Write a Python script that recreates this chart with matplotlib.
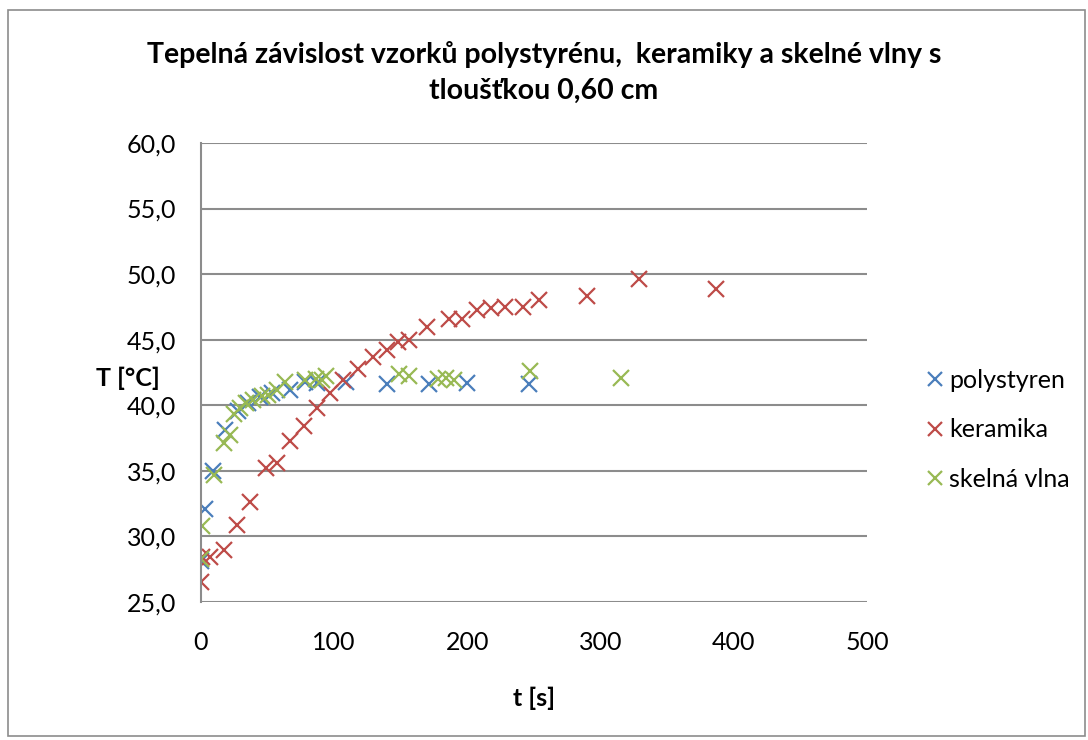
import matplotlib
matplotlib.use("Agg")
import matplotlib.pyplot as plt
from matplotlib.patches import Rectangle
from matplotlib.ticker import FuncFormatter

plt.rcParams["font.family"] = ["Lato", "DejaVu Sans"]

# values
t_poly = [0, 3, 9, 18, 28, 35, 44, 53, 67, 78, 87, 109, 140, 171, 200, 246]
T_poly = [28.1, 32.1, 35.0, 38.1, 39.6, 40.2, 40.6, 40.9, 41.2, 41.8, 41.7, 41.8, 41.6, 41.6, 41.7, 41.6]

t_ker = [0, 1, 7, 17, 27, 37, 49, 57, 67, 77, 87, 97, 107, 118, 129, 140, 148, 156,
         170, 186, 196, 207, 218, 228, 242, 254, 290, 329, 387]
T_ker = [26.5, 28.4, 28.4, 29.0, 30.9, 32.6, 35.2, 35.6, 37.3, 38.4, 39.8, 40.9, 41.9, 42.8,
         43.7, 44.2, 44.8, 45.0, 46.0, 46.6, 46.6, 47.3, 47.4, 47.5, 47.5, 48.0, 48.3, 49.6, 48.9]

t_glass = [0, 1, 10, 17, 22, 25, 29, 34, 39, 46, 50, 57, 63, 78, 86, 91, 94,
           149, 156, 178, 184, 190, 247, 315]
T_glass = [28.3, 30.8, 34.7, 37.1, 37.7, 39.3, 39.8, 40.2, 40.4, 40.7, 40.8, 41.2, 41.8,
           41.9, 42.0, 41.9, 42.2, 42.4, 42.2, 42.0, 42.1, 41.9, 42.6, 42.1]

series = [
    ("polystyren", t_poly, T_poly, "#4A7EBB"),
    ("keramika", t_ker, T_ker, "#BE4B48"),
    ("skelná vlna", t_glass, T_glass, "#98B954"),
]

fig = plt.figure(figsize=(10.88, 7.40), dpi=100)
fig.patches.append(Rectangle((0.007, 0.006), 0.99, 0.98, transform=fig.transFigure,
                             fill=False, edgecolor="#8c8c8c", linewidth=1.2))

ax = fig.add_axes([0.1847, 0.1865, 0.6122, 0.6203])

for name, t, T, col in series:
    ax.plot(t, T, linestyle="none", marker="x", markersize=11,
            markeredgewidth=1.6, color=col, label=name)

ax.set_xlim(0, 500)
ax.set_ylim(25, 60)
ax.set_xticks(range(0, 501, 100))
ax.set_yticks(range(25, 61, 5))
ax.yaxis.set_major_formatter(FuncFormatter(lambda v, p: f"{v:.1f}".replace(".", ",")))
ax.tick_params(axis="y", length=0, labelsize=18, pad=18)
ax.tick_params(axis="x", length=0, labelsize=18, pad=21)
ax.grid(axis="y", color="#8c8c8c", linewidth=1.5)
ax.set_axisbelow(True)
for s in ["top", "right", "bottom"]:
    ax.spines[s].set_visible(False)
ax.spines["left"].set_color("#8c8c8c")
ax.spines["left"].set_linewidth(1.5)

ax.set_xlabel("t [s]", fontsize=18, fontweight="bold")
ax.xaxis.set_label_coords(0.5, -0.185)
ax.set_ylabel("T [°C]", fontsize=18, fontweight="bold", rotation=0, va="center")
ax.yaxis.set_label_coords(-0.11, 0.488)

fig.suptitle("Tepelná závislost vzorků polystyrénu,  keramiky a skelné vlny s\ntloušťkou 0,60 cm",
             fontsize=20.5, fontweight="bold", y=0.945, linespacing=1.5)

ax.legend(loc="center left", bbox_to_anchor=(1.05, 0.375), frameon=False, fontsize=18,
          handletextpad=0.05, labelspacing=1.05, handlelength=1.0, markerscale=0.95)

fig.savefig("out.png", dpi=100)
